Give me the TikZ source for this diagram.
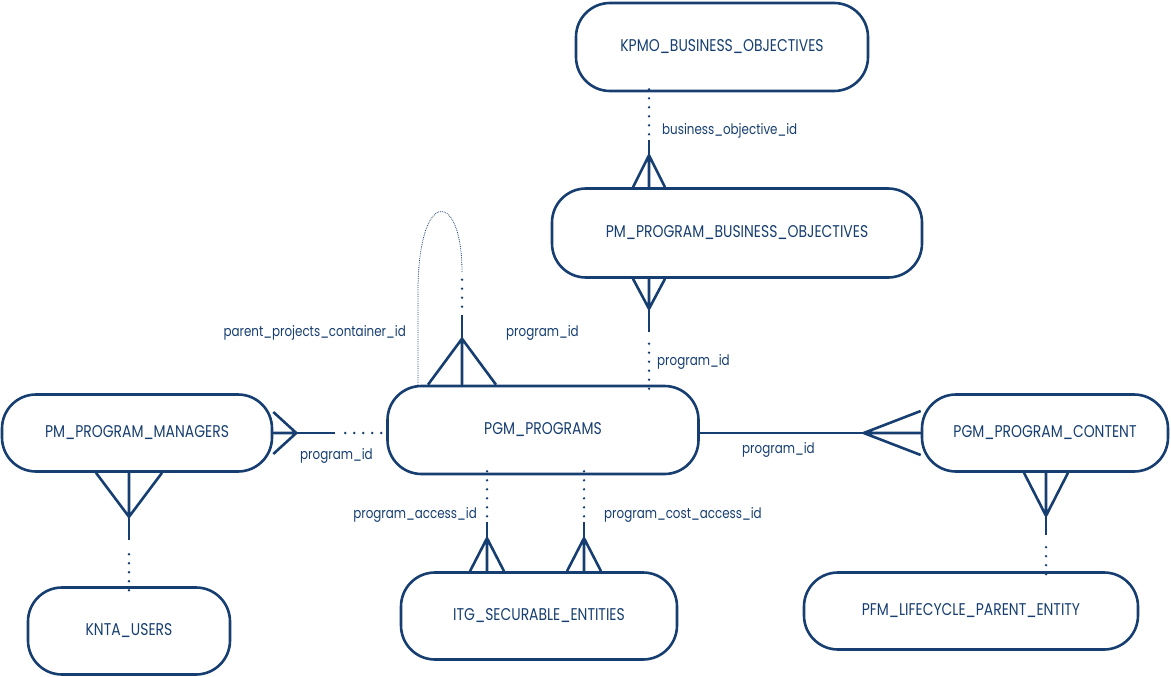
\documentclass[tikz,border=0pt]{standalone}
\usepackage{fontspec}
\setmainfont{Poppins}[FakeStretch=0.82]
\usepackage{tikz}
\usetikzlibrary{calc,positioning}

\definecolor{ernavy}{RGB}{22,62,112}

% crow's foot: many end, other end, length, half width
\newcommand{\crowfoot}[4]{%
  \draw[link] ($(#1)!#3!(#2)$) -- ($(#1)!#4!90:(#2)$)
              ($(#1)!#3!(#2)$) -- (#1)
              ($(#1)!#3!(#2)$) -- ($(#1)!#4!-90:(#2)$);}

\begin{document}
\begin{tikzpicture}[x=1pt,y=-1pt,
  entity/.style={draw=ernavy,line width=2.6pt,rounded corners=34pt,
    text=ernavy,font=\fontsize{17}{20}\selectfont,inner sep=0pt},
  link/.style={draw=ernavy,line width=2.6pt},
  dots/.style={draw=ernavy,line width=2.6pt,line cap=round,
    dash pattern=on 0pt off 9pt},
  lbl/.style={text=ernavy,font=\fontsize{14.5}{17}\selectfont,inner sep=0pt}]
\useasboundingbox (0,0) rectangle (1171,677);

% tables
\node[entity,minimum width=292pt,minimum height=88pt] (kpmo) at (722,47) {KPMO\_BUSINESS\_OBJECTIVES};
\node[entity,minimum width=370pt,minimum height=89pt] (pmpbo) at (737,233) {PM\_PROGRAM\_BUSINESS\_OBJECTIVES};
\node[entity,minimum width=311pt,minimum height=88pt] (pgm) at (543,430) {PGM\_PROGRAMS};
\node[entity,minimum width=270pt,minimum height=77pt] (pmm) at (137,433) {PM\_PROGRAM\_MANAGERS};
\node[entity,minimum width=246pt,minimum height=77pt] (ppc) at (1045,433) {PGM\_PROGRAM\_CONTENT};
\node[entity,minimum width=202pt,minimum height=87pt] (knta) at (129,631) {KNTA\_USERS};
\node[entity,minimum width=276pt,minimum height=87pt] (itg) at (539,616) {ITG\_SECURABLE\_ENTITIES};
\node[entity,minimum width=334pt,minimum height=77pt] (pfm) at (971,611) {PFM\_LIFECYCLE\_PARENT\_ENTITY};

% attach points
\coordinate (a1) at (kpmo.south -| 649,0);
\coordinate (b1) at (pmpbo.north -| 649,0);
\coordinate (a2) at (pgm.north -| 649,0);
\coordinate (b2) at (pmpbo.south -| 649,0);
\coordinate (b3) at (pgm.north -| 462,0);
\coordinate (a4) at (pgm.west |- pmm.east);
\coordinate (b4) at (pmm.east);
\coordinate (a5) at (pgm.east |- ppc.west);
\coordinate (b5) at (ppc.west);
\coordinate (a6) at (knta.north);
\coordinate (b6) at (pmm.south -| knta.north);
\coordinate (a7) at (pgm.south -| 487,0);
\coordinate (b7) at (itg.north -| 487,0);
\coordinate (a8) at (pgm.south -| 584,0);
\coordinate (b8) at (itg.north -| 584,0);
\coordinate (a9) at (pfm.north -| 1046,0);
\coordinate (b9) at (ppc.south -| 1046,0);

% KPMO -- PM_PROGRAM_BUSINESS_OBJECTIVES
\draw[dots] ([yshift=3]a1) -- ($(a1)!0.47!(b1)$);
\draw[link] ($(a1)!0.5!(b1)$) -- (b1);
\crowfoot{b1}{a1}{32pt}{16pt}
\node[lbl,anchor=west] (l1) at (662,131) {business\_objective\_id};

% PGM_PROGRAMS -- PM_PROGRAM_BUSINESS_OBJECTIVES
\draw[dots] ([yshift=-4]a2) -- ($(a2)!0.47!(b2)$);
\draw[link] ($(a2)!0.5!(b2)$) -- (b2);
\crowfoot{b2}{a2}{30pt}{16pt}
\node[lbl,anchor=west] (l2) at (657,362) {program\_id};

% PGM_PROGRAMS self link
\coordinate (c3) at (462,272);
\draw[dots] ($(b3)+(0,-78)$) -- (c3);
\draw[link] ($(b3)+(0,-70)$) -- (b3);
\crowfoot{b3}{c3}{46pt}{34pt}
\draw[ernavy,line width=0.8pt,densely dotted] (c3) .. controls (462,188) and (416,186) .. (418,300) -- (pgm.north -| 418,0);
\node[lbl,anchor=east] (l3a) at (406,333) {parent\_projects\_container\_id};
\node[lbl,anchor=west] (l3b) at (506,333) {program\_id};

% PGM_PROGRAMS -- PM_PROGRAM_MANAGERS
\draw[dots] ([xshift=-5]a4) -- ($(a4)!0.38!(b4)$);
\draw[link] ($(a4)!0.45!(b4)$) -- (b4);
\crowfoot{b4}{a4}{23pt}{21pt}
\node[lbl,anchor=west] (l4) at (300,456) {program\_id};

% PGM_PROGRAMS -- PGM_PROGRAM_CONTENT
\draw[link] (a5) -- (b5);
\crowfoot{b5}{a5}{57pt}{22pt}
\node[lbl,anchor=west] (l5) at (742,450) {program\_id};

% KNTA_USERS -- PM_PROGRAM_MANAGERS
\draw[dots] ([yshift=-4]a6) -- ($(a6)!0.36!(b6)$);
\draw[link] ($(a6)!0.41!(b6)$) -- (b6);
\crowfoot{b6}{a6}{44pt}{33pt}

% PGM_PROGRAMS -- ITG_SECURABLE_ENTITIES
\draw[dots] ([yshift=4]a7) -- ($(a7)!0.45!(b7)$);
\draw[link] ($(a7)!0.49!(b7)$) -- (b7);
\crowfoot{b7}{a7}{33pt}{17pt}
\draw[dots] ([yshift=4]a8) -- ($(a8)!0.45!(b8)$);
\draw[link] ($(a8)!0.49!(b8)$) -- (b8);
\crowfoot{b8}{a8}{33pt}{17pt}
\node[lbl,anchor=east] (l7) at (477,515) {program\_access\_id};
\node[lbl,anchor=west] (l8) at (604,515) {program\_cost\_access\_id};

% PFM_LIFECYCLE_PARENT_ENTITY -- PGM_PROGRAM_CONTENT
\draw[dots] ([yshift=-3]a9) -- ($(a9)!0.32!(b9)$);
\draw[link] ($(a9)!0.37!(b9)$) -- (b9);
\crowfoot{b9}{a9}{43pt}{22pt}
\end{tikzpicture}
\end{document}
